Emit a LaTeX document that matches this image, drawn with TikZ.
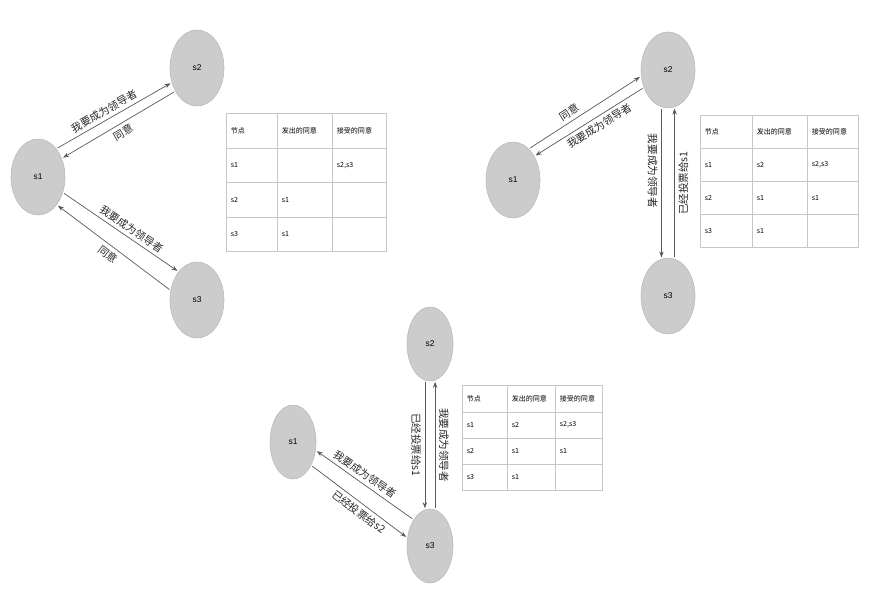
\documentclass[tikz,border=0pt]{standalone}
\usepackage{fontspec}
\setmainfont{Liberation Sans}
\newfontfamily\cjk{Noto Sans CJK SC}
\usetikzlibrary{arrows.meta,shapes.geometric,matrix}

\begin{document}
\begin{tikzpicture}[x=0.025cm, y=-0.025cm, >=Stealth,
  srv/.style={ellipse, draw=gray!55, fill=gray!40, minimum width=1.35cm,
              minimum height=1.9cm, inner sep=0pt, font=\fontsize{6}{7}\selectfont},
  srvsmall/.style={srv, minimum width=1.15cm, minimum height=1.85cm},
  msg/.style={-{Stealth[length=1.5mm, width=1.1mm]}, draw=black!65, line width=0.5pt,
              shorten >=1pt, shorten <=1pt},
  lbl/.style={font=\cjk\fontsize{7.5}{8}\selectfont, inner sep=2.5pt, text=black!85},
  vtable/.style={matrix of nodes, nodes in empty cells, inner sep=0pt,
                 column sep=-0.4pt, row sep=-0.4pt, anchor=north west,
                 nodes={draw=gray!45, line width=0.4pt, align=left, inner xsep=3pt,
                        font=\cjk\fontsize{5}{6}\selectfont, anchor=center}}]
  \useasboundingbox (0,0) rectangle (878,595);

  % first round: s1 asks for votes
  \node[srv] (p1s1) at (38,177) {s1};
  \node[srv] (p1s2) at (197,68) {s2};
  \node[srv] (p1s3) at (197,300) {s3};
  \draw[msg] (p1s1.57) -- node[lbl, pos=0.45, above, sloped]{我要成为领导者} (p1s2.210);
  \draw[msg] (p1s2.227) -- node[lbl, midway, below, sloped]{同意} (p1s1.38);
  \draw[msg] (p1s1.328) -- node[lbl, pos=0.55, above, sloped]{我要成为领导者} (p1s3.123);
  \draw[msg] (p1s3.160) -- node[lbl, midway, below, sloped]{同意} (p1s1.304);
  \matrix (tab1) [vtable, at={(226,113)},
      column 1/.style={nodes={text width=1.065cm, minimum height=0.86cm}},
      column 2/.style={nodes={text width=1.165cm, minimum height=0.86cm}},
      column 3/.style={nodes={text width=1.14cm, minimum height=0.86cm}}] {
    节点 & 发出的同意 & 接受的同意 \\
    s1 &  & s2,s3 \\
    s2 & s1 &  \\
    s3 & s1 &  \\
  };

  % second round: s2 asks for votes
  \node[srv] (p2s1) at (513,180) {s1};
  \node[srv] (p2s2) at (668,70) {s2};
  \node[srv] (p2s3) at (668,296) {s3};
  \draw[msg] (p2s1.63) -- node[lbl, pos=0.4, above, sloped]{同意} (p2s2.193);
  \draw[msg] (p2s2.216) -- node[lbl, pos=0.45, below, sloped]{我要成为领导者} (p2s1.48);
  \draw[msg] (p2s2.260) -- node[lbl, pos=0.42, rotate=-90, anchor=north]{我要成为领导者} (p2s3.100);
  \draw[msg] (p2s3.80) -- node[lbl, midway, rotate=90, anchor=north]{已经投票给s1} (p2s2.280);
  \matrix (tab2) [vtable, at={(700,115)},
      column 1/.style={nodes={text width=1.09cm, minimum height=0.825cm}},
      column 2/.style={nodes={text width=1.165cm, minimum height=0.825cm}},
      column 3/.style={nodes={text width=1.065cm, minimum height=0.825cm}}] {
    节点 & 发出的同意 & 接受的同意 \\
    s1 & s2 & s2,s3 \\
    s2 & s1 & s1 \\
    s3 & s1 &  \\
  };

  % third round: s3 asks for votes
  \node[srvsmall] (p3s1) at (293,442) {s1};
  \node[srvsmall] (p3s2) at (430,344) {s2};
  \node[srvsmall] (p3s3) at (430,546) {s3};
  \draw[msg] (p3s3.122) -- node[lbl, pos=0.55, above, sloped]{我要成为领导者} (p3s1.340);
  \draw[msg] (p3s1.308) -- node[lbl, pos=0.55, below, sloped]{已经投票给s2} (p3s3.160);
  \draw[msg] (p3s2.262) -- node[lbl, midway, rotate=-90, anchor=north]{已经投票给s1} (p3s3.98);
  \draw[msg] (p3s3.82) -- node[lbl, midway, rotate=-90, anchor=south]{我要成为领导者} (p3s2.278);
  \matrix (tab3) [vtable, at={(462,385)},
      column 1/.style={nodes={text width=0.915cm, minimum height=0.655cm}},
      column 2/.style={nodes={text width=0.99cm, minimum height=0.655cm}},
      column 3/.style={nodes={text width=0.965cm, minimum height=0.655cm}}] {
    节点 & 发出的同意 & 接受的同意 \\
    s1 & s2 & s2,s3 \\
    s2 & s1 & s1 \\
    s3 & s1 &  \\
  };
\end{tikzpicture}
\end{document}
